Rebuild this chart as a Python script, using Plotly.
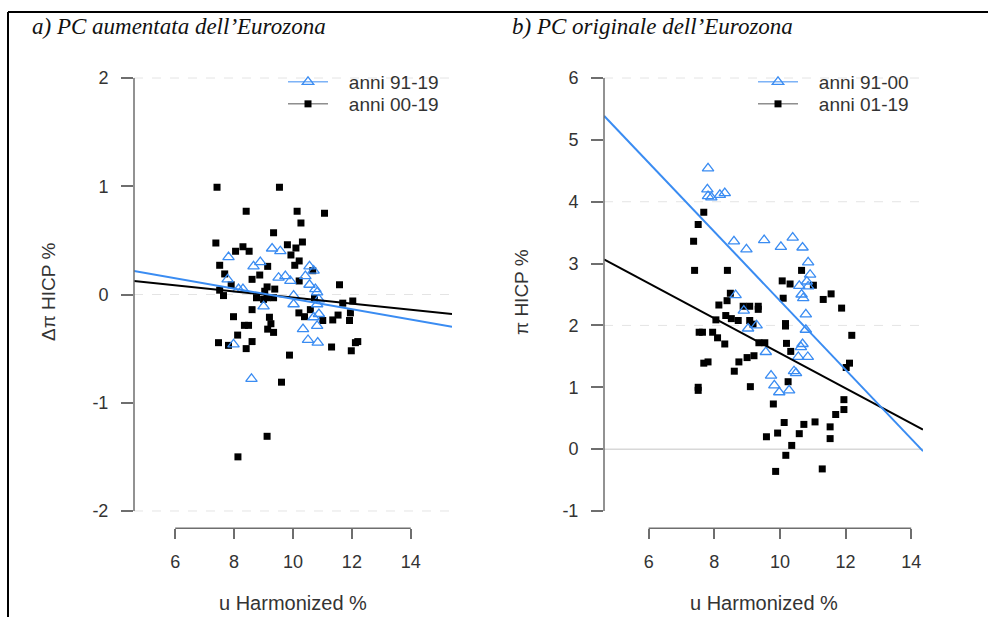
import plotly.graph_objects as go

# ---------------- data ----------------
# Panel a) augmented Phillips curve: x = u Harmonized %, y = delta pi HICP %
A_BLACK_X = [7.42, 9.54, 8.41, 10.14, 11.07, 10.27, 9.34, 7.38, 9.81, 10.32, 8.30, 8.05, 8.51, 10.10,
             9.93, 10.21, 10.06, 7.51, 9.14, 10.67, 7.68, 8.87, 8.61, 10.21, 11.58, 7.90, 9.12, 7.51,
             9.38, 7.64, 9.04, 8.76, 9.12, 9.34, 10.73, 11.69, 12.03, 8.61, 9.00, 7.98, 9.20, 10.20,
             10.39, 10.59, 11.53, 11.95, 11.01, 11.35, 11.92, 8.35, 8.49, 9.25, 9.14, 9.34, 8.12,
             7.47, 7.81, 8.61, 8.41, 9.88, 11.31, 11.98, 12.20, 12.12, 9.61, 9.12, 8.13]
A_BLACK_Y = [0.99, 0.99, 0.77, 0.77, 0.75, 0.66, 0.57, 0.475, 0.46, 0.485, 0.44, 0.40, 0.40, 0.43,
             0.365, 0.31, 0.27, 0.27, 0.26, 0.22, 0.19, 0.18, 0.14, 0.125, 0.09, 0.09, 0.07, 0.04,
             0.05, -0.01, 0.03, -0.03, -0.03, -0.03, -0.035, -0.08, -0.06, -0.14, -0.045, -0.205, -0.21, -0.17,
             -0.205, -0.14, -0.19, -0.17, -0.24, -0.235, -0.24, -0.285, -0.285, -0.27, -0.32, -0.35, -0.375,
             -0.445, -0.47, -0.435, -0.50, -0.56, -0.485, -0.52, -0.435, -0.445, -0.81, -1.31, -1.50]
A_BLUE_X = [9.29, 9.57, 7.81, 8.89, 8.66, 10.56, 10.70, 9.51, 9.74, 9.91, 10.42, 10.56, 7.78, 8.15,
            8.30, 10.76, 10.82, 10.02, 9.00, 10.02, 10.88, 10.82, 10.88, 10.70, 10.82, 10.34, 10.51,
            10.84, 7.98, 8.59]
A_BLUE_Y = [0.425, 0.40, 0.345, 0.30, 0.26, 0.26, 0.22, 0.155, 0.17, 0.125, 0.17, 0.09, 0.14, 0.05,
            0.05, 0.05, 0.02, -0.01, -0.11, -0.09, -0.045, -0.09, -0.18, -0.21, -0.29, -0.32, -0.42,
            -0.445, -0.46, -0.78]

# Panel b) original Phillips curve: x = u Harmonized %, y = pi HICP %
B_BLUE_X = [7.81, 7.79, 7.81, 7.91, 8.17, 8.32, 8.60, 8.98, 9.52, 10.39, 10.03, 10.69, 10.86, 10.92,
            10.82, 10.59, 10.86, 10.66, 10.71, 8.65, 8.90, 10.79, 10.79, 9.03, 9.29, 10.69, 10.64,
            9.57, 10.56, 10.85, 10.43, 10.49, 9.73, 9.83, 9.98, 10.28]
B_BLUE_Y = [4.54, 4.20, 4.09, 4.07, 4.11, 4.14, 3.36, 3.23, 3.38, 3.42, 3.27, 3.26, 3.02, 2.82,
            2.71, 2.64, 2.63, 2.50, 2.44, 2.49, 2.24, 2.18, 1.93, 1.95, 2.00, 1.70, 1.65,
            1.57, 1.49, 1.49, 1.26, 1.23, 1.19, 1.03, 0.92, 0.95]
B_BLACK_X = [7.68, 7.51, 7.37, 7.40, 8.40, 10.66, 10.07, 10.31, 11.02, 11.56, 11.32, 10.10, 11.88,
             8.49, 8.39, 8.14, 8.88, 9.08, 9.34, 9.34, 8.35, 8.52, 8.73, 8.05, 9.08, 9.18, 10.17,
             10.17, 7.54, 7.64, 7.95, 8.10, 8.32, 9.36, 9.54, 10.20, 10.33, 12.19, 9.21, 9.00, 8.75,
             7.68, 7.81, 8.61, 12.12, 12.02, 10.25, 9.10, 7.51, 7.51, 9.80, 11.95, 11.95, 11.70,
             10.13, 9.93, 9.59, 10.73, 11.07, 10.59, 11.53, 11.53, 10.36, 10.18, 9.87, 11.29]
B_BLACK_Y = [3.83, 3.63, 3.36, 2.89, 2.89, 2.89, 2.72, 2.67, 2.65, 2.51, 2.42, 2.44, 2.28,
             2.52, 2.40, 2.33, 2.31, 2.31, 2.31, 2.26, 2.16, 2.11, 2.08, 2.09, 2.08, 2.02, 2.03,
             1.99, 1.89, 1.89, 1.89, 1.80, 1.70, 1.72, 1.72, 1.71, 1.58, 1.84, 1.51, 1.48, 1.41,
             1.39, 1.41, 1.26, 1.39, 1.32, 1.09, 1.01, 1.00, 0.95, 0.73, 0.80, 0.64, 0.56,
             0.43, 0.26, 0.20, 0.40, 0.44, 0.25, 0.36, 0.17, 0.06, -0.10, -0.36, -0.32]

# fitted lines: (intercept, slope)
A_BLUE_FIT = (0.437, -0.0478)
A_BLACK_FIT = (0.256, -0.0284)
B_BLUE_FIT = (7.98, -0.558)
B_BLACK_FIT = (4.38, -0.283)

A_LEGEND = ["anni 91-19", "anni 00-19"]
B_LEGEND = ["anni 91-00", "anni 01-19"]
TITLES = ["a) PC aumentata dell\u2019Eurozona", "b) PC originale dell\u2019Eurozona"]
X_TITLE = "u Harmonized %"
Y_TITLES = ["\u0394\u03c0 HICP %", "\u03c0 HICP %"]
X_TICKS = [6, 8, 10, 12, 14]
A_Y_TICKS = [-2, -1, 0, 1, 2]
B_Y_TICKS = [-1, 0, 1, 2, 3, 4, 5, 6]

A_XRANGE = [4.6, 15.4]
A_YRANGE = [-2.16, 2.16]
B_XRANGE = [4.64, 14.36]
B_YRANGE = [-1.28, 6.28]

# ---------------- style ----------------
W, H = 988, 617
BLUE = "#3a8cf2"
BLACK = "#000000"
AX = "#6e6e6e"
TXT = "#333333"
FONT = "Liberation Sans"
TICK_SIZE = 18
LABEL_SIZE = 19
PAD = "\u00a0\u00a0\u00a0"


def px(x):
    return x / W


def py(y):
    return 1 - y / H


def labels(vals):
    return [str(v) for v in vals]


fig = go.Figure()


def add_panel(xa, ya, bx, by, ux, uy, fit_u, fit_b, xr, legs, names):
    fig.add_trace(go.Scatter(x=bx, y=by, mode="markers", xaxis=xa, yaxis=ya, showlegend=False,
                             marker=dict(symbol="square", size=7, color=BLACK)))
    fig.add_trace(go.Scatter(x=ux, y=uy, mode="markers", xaxis=xa, yaxis=ya, showlegend=False,
                             marker=dict(symbol="triangle-up-open", size=10, color=BLUE,
                                         line=dict(width=1.3, color=BLUE))))
    for (a, b), col in ((fit_b, BLACK), (fit_u, BLUE)):
        fig.add_trace(go.Scatter(x=xr, y=[a + b * xr[0], a + b * xr[1]], mode="lines",
                                 xaxis=xa, yaxis=ya, showlegend=False,
                                 line=dict(color=col, width=2)))
    # legend entries (one legend box per entry for exact spacing)
    fig.add_trace(go.Scatter(x=[None], y=[None], mode="lines+markers", name=PAD + names[0],
                             legend=legs[0], xaxis=xa, yaxis=ya,
                             line=dict(color=BLUE, width=1),
                             marker=dict(symbol="triangle-up-open", size=10, color=BLUE,
                                         line=dict(width=1.3, color=BLUE))))
    fig.add_trace(go.Scatter(x=[None], y=[None], mode="lines+markers", name=PAD + names[1],
                             legend=legs[1], xaxis=xa, yaxis=ya,
                             line=dict(color="#555555", width=1),
                             marker=dict(symbol="square", size=7, color=BLACK)))


add_panel("x", "y", A_BLACK_X, A_BLACK_Y, A_BLUE_X, A_BLUE_Y, A_BLUE_FIT, A_BLACK_FIT,
          A_XRANGE, ("legend", "legend2"), A_LEGEND)
add_panel("x2", "y2", B_BLACK_X, B_BLACK_Y, B_BLUE_X, B_BLUE_Y, B_BLUE_FIT, B_BLACK_FIT,
          B_XRANGE, ("legend3", "legend4"), B_LEGEND)

ydom = [py(528.3), py(60.7)]
common_x = dict(tickvals=X_TICKS, ticktext=labels(X_TICKS), ticks="outside", ticklen=10,
                tickwidth=1.5, tickcolor=AX, showgrid=False, zeroline=False, showline=False,
                tickfont=dict(family=FONT, size=TICK_SIZE, color=TXT), ticklabelstandoff=7,
                automargin=False)
common_y = dict(ticks="outside", ticklen=12, tickwidth=1.5, tickcolor=AX,
                showgrid=False, zeroline=False, showline=False, domain=ydom,
                tickfont=dict(family=FONT, size=TICK_SIZE, color=TXT), ticklabelstandoff=9,
                automargin=False)

legend_style = dict(xanchor="left", yanchor="top", bgcolor="rgba(0,0,0,0)", itemwidth=40,
                    font=dict(family=FONT, size=LABEL_SIZE, color=TXT), tracegroupgap=0)

fig.update_layout(
    width=W, height=H,
    margin=dict(l=0, r=0, t=0, b=0),
    paper_bgcolor="white", plot_bgcolor="white",
    xaxis=dict(domain=[px(134), px(452)], range=A_XRANGE, anchor="y", **common_x),
    yaxis=dict(range=A_YRANGE, tickvals=A_Y_TICKS, ticktext=labels(A_Y_TICKS), anchor="x", **common_y),
    xaxis2=dict(domain=[px(604), px(923)], range=B_XRANGE, anchor="y2", **common_x),
    yaxis2=dict(range=B_YRANGE, tickvals=B_Y_TICKS, ticktext=labels(B_Y_TICKS), anchor="x2", **common_y),
    legend=dict(x=px(283), y=py(63), **legend_style),
    legend2=dict(x=px(283), y=py(85), **legend_style),
    legend3=dict(x=px(753), y=py(63), **legend_style),
    legend4=dict(x=px(753), y=py(85), **legend_style),
    showlegend=True,
)

shapes = []
# light gridlines
for yv in (-2, 0, 2):
    shapes.append(dict(type="line", xref="x domain", yref="y", x0=0, x1=1, y0=yv, y1=yv,
                       line=dict(color="#e4e4e4", width=1, dash="dash"), layer="below"))
for yv in (2, 4, 6):
    shapes.append(dict(type="line", xref="x2 domain", yref="y2", x0=0, x1=1, y0=yv, y1=yv,
                       line=dict(color="#e4e4e4", width=1, dash="dash"), layer="below"))
shapes.append(dict(type="line", xref="x2 domain", yref="y2", x0=0, x1=1, y0=0, y1=0,
                   line=dict(color="#d8d8d8", width=1.5), layer="below"))
# R-style axis lines spanning first to last tick
shapes.append(dict(type="line", xref="x domain", yref="y", x0=0, x1=0, y0=A_Y_TICKS[0], y1=A_Y_TICKS[-1],
                   line=dict(color=AX, width=1.5)))
shapes.append(dict(type="line", xref="x", yref="y domain", x0=X_TICKS[0], x1=X_TICKS[-1], y0=0, y1=0,
                   line=dict(color=AX, width=1.5)))
shapes.append(dict(type="line", xref="x2 domain", yref="y2", x0=0, x1=0, y0=B_Y_TICKS[0], y1=B_Y_TICKS[-1],
                   line=dict(color=AX, width=1.5)))
shapes.append(dict(type="line", xref="x2", yref="y2 domain", x0=X_TICKS[0], x1=X_TICKS[-1], y0=0, y1=0,
                   line=dict(color=AX, width=1.5)))
# outer frame (top and left edges)
shapes.append(dict(type="line", xref="paper", yref="paper", x0=px(8), x1=1.01, y0=py(12), y1=py(12),
                   line=dict(color="black", width=2)))
shapes.append(dict(type="line", xref="paper", yref="paper", x0=px(8), x1=px(8), y0=py(12), y1=-0.01,
                   line=dict(color="black", width=2)))
fig.update_layout(shapes=shapes)

ann = []
for xpos, t in ((30, TITLES[0]), (510, TITLES[1])):
    ann.append(dict(xref="paper", yref="paper", x=px(xpos), y=py(26), xanchor="left", yanchor="middle",
                    text="<i>" + t + "</i>", showarrow=False,
                    font=dict(family="Liberation Serif", size=23, color="#111111")))
for xc in ((134 + 452) / 2, (604 + 923) / 2):
    ann.append(dict(xref="paper", yref="paper", x=px(xc), y=py(603), xanchor="center", yanchor="middle",
                    text=X_TITLE, showarrow=False, font=dict(family=FONT, size=20, color=TXT)))
for xc, t in ((48, Y_TITLES[0]), (521, Y_TITLES[1])):
    ann.append(dict(xref="paper", yref="paper", x=px(xc), y=py(292), xanchor="center", yanchor="middle",
                    text=t, textangle=-90, showarrow=False,
                    font=dict(family=FONT, size=LABEL_SIZE, color=TXT)))
fig.update_layout(annotations=ann)

fig.write_html("out.html")
